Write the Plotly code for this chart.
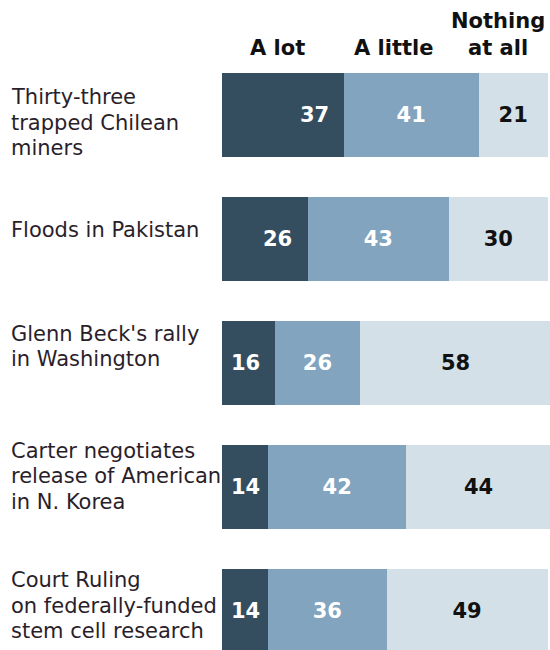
import plotly.graph_objects as go

# Survey: how much people heard about each news story (%)
stories = [
    "Thirty-three<br>trapped Chilean<br>miners",
    "Floods in Pakistan",
    "Glenn Beck's rally<br>in Washington",
    "Carter negotiates<br>release of American<br>in N. Korea",
    "Court Ruling<br>on federally-funded<br>stem cell research",
]
a_lot = [37, 26, 16, 14, 14]
a_little = [41, 43, 26, 42, 36]
nothing = [21, 30, 58, 44, 49]
series_names = ["A lot", "A little", "Nothing<br>at all"]

colors = ["#344d5f", "#82a4be", "#d4e0e8"]
label_font = "DejaVu Sans, Verdana, sans-serif"

W, H = 550, 650
plot_left = 222
px_per_unit = 3.29
bar_pitch = 124
first_center = 115
value_size = 21
text_size = 21
line_step = 25.5

ypos = list(range(len(stories)))

fig = go.Figure()

fig.add_trace(go.Bar(
    y=ypos, x=a_lot, orientation="h", marker=dict(color=colors[0], line=dict(width=0)),
    name="A lot", hoverinfo="skip",
))
fig.add_trace(go.Bar(
    y=ypos, x=a_little, orientation="h", marker=dict(color=colors[1], line=dict(width=0)),
    name="A little", text=[str(v) for v in a_little], textposition="inside",
    insidetextanchor="middle", textangle=0,
    textfont=dict(family=label_font, size=value_size, color="white", weight="bold"),
    hoverinfo="skip",
))
fig.add_trace(go.Bar(
    y=ypos, x=nothing, orientation="h", marker=dict(color=colors[2], line=dict(width=0)),
    name="Nothing at all", text=[str(v) for v in nothing], textposition="inside",
    insidetextanchor="middle", textangle=0,
    textfont=dict(family=label_font, size=value_size, color="#111111", weight="bold"),
    hoverinfo="skip",
))

annotations = []

# "A lot" values sit near the right end of the dark segment
for i, v in enumerate(a_lot):
    annotations.append(dict(
        x=max(v - 9, 7), y=i, xref="x", yref="y", text=str(v), showarrow=False,
        xanchor="center", yanchor="middle",
        font=dict(family=label_font, size=value_size, color="white", weight="bold"),
    ))

# Story labels on the left, one annotation per line for tight spacing
first_line_offset = [-18, -9.5, -29.5, -36.5, -31]
for i, s in enumerate(stories):
    for k, line in enumerate(s.split("<br>")):
        annotations.append(dict(
            x=9 / W, y=i, xref="paper", yref="y", text=line, showarrow=False,
            xanchor="left", yanchor="middle", align="left",
            yshift=-(first_line_offset[i] + k * line_step),
            font=dict(family=label_font, size=text_size, color="#2a1e2a"),
        ))

# Column headers
header_x = [17, 52, 84]
for name, hx in zip(series_names, header_x):
    annotations.append(dict(
        x=hx, y=1 - 62 / H, xref="x", yref="paper", text=name, showarrow=False,
        xanchor="center", yanchor="bottom", align="center",
        font=dict(family=label_font, size=text_size, color="#111111", weight="bold"),
    ))

x_max = (W - plot_left) / px_per_unit
y_top = -first_center / bar_pitch
y_bottom = (H - first_center) / bar_pitch

fig.update_layout(
    width=W, height=H,
    margin=dict(l=0, r=0, t=0, b=0),
    barmode="stack", bargap=1 - 84 / bar_pitch,
    showlegend=False,
    plot_bgcolor="white", paper_bgcolor="white",
    xaxis=dict(domain=[plot_left / W, 1], range=[0, x_max], visible=False, fixedrange=True),
    yaxis=dict(range=[y_bottom, y_top], visible=False, fixedrange=True),
    annotations=annotations,
    uniformtext=dict(minsize=value_size, mode="show"),
)

fig.write_html("out.html")
